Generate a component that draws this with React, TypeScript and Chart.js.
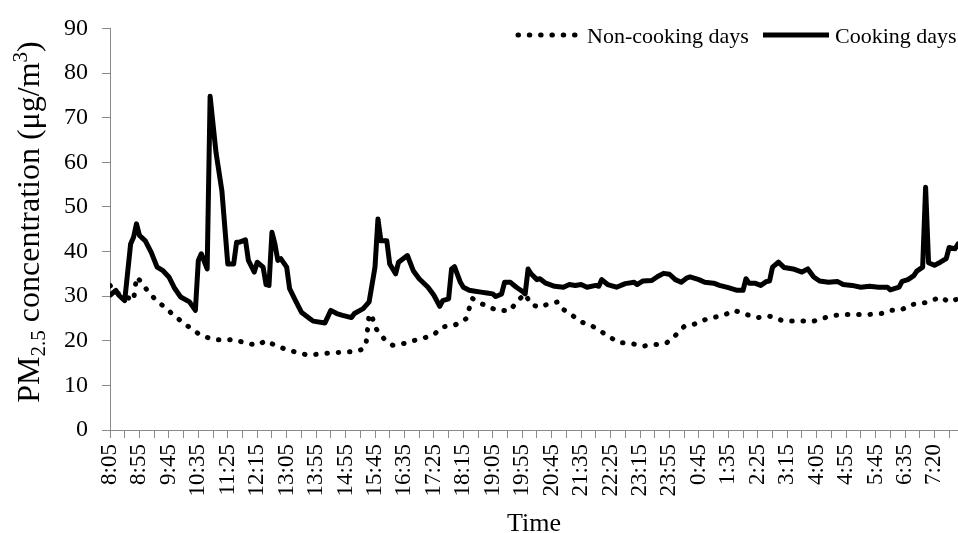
import React, { useEffect, useRef } from "react";
import { Chart, registerables } from "chart.js";

Chart.register(...registerables);

// Tick labels shown every 10 samples along the time axis
const timeLabels = [
  "8:05", "8:55", "9:45", "10:35", "11:25", "12:15", "13:05", "13:55", "14:55", "15:45",
  "16:35", "17:25", "18:15", "19:05", "19:55", "20:45", "21:35", "22:25", "23:15", "23:55",
  "0:45", "1:35", "2:25", "3:15", "4:05", "4:55", "5:45", "6:35", "7:20",
];

const SAMPLE_COUNT = 288; // last sample index on the time axis

// [sample index, PM2.5 µg/m³]
const cookingDays: [number, number][] = [
  [0, 30.2], [2, 31.3], [3, 30.2], [5, 29.0], [7, 41.7], [8, 43.2], [9, 46.2], [10, 43.6], [12, 42.4], [14, 39.8],
  [16, 36.5], [18, 35.7], [20, 34.3], [22, 31.7], [24, 29.8], [27, 28.7], [29, 26.8], [30, 38.0], [31, 39.5], [33, 36.1],
  [34, 74.8], [36, 62.2], [38, 53.6], [40, 37.2], [42, 37.2], [43, 42.1], [44, 42.1], [46, 42.6], [47, 38.0], [49, 35.4],
  [50, 37.6], [52, 36.5], [53, 32.6], [54, 32.4], [55, 44.3], [56, 41.7], [57, 38.0], [58, 38.4], [60, 36.5], [61, 31.7],
  [63, 29.0], [65, 26.4], [68, 24.9], [69, 24.4], [73, 24.0], [75, 26.8], [77, 26.1], [79, 25.7], [82, 25.2], [83, 26.1],
  [86, 27.2], [88, 28.7], [90, 36.5], [91, 47.3], [92, 42.4], [94, 42.4], [95, 37.2], [97, 35.0], [98, 37.6], [101, 39.1],
  [103, 35.7], [105, 33.9], [108, 32.0], [110, 30.2], [112, 27.7], [113, 29.0], [115, 29.4], [116, 36.1], [117, 36.6], [119, 33.1],
  [120, 32.0], [122, 31.3], [124, 31.1], [126, 30.9], [128, 30.7], [130, 30.5], [131, 29.9], [133, 30.5], [134, 33.1], [136, 33.1],
  [138, 32.0], [140, 31.1], [141, 30.5], [142, 36.1], [143, 35.0], [145, 33.7], [146, 33.9], [148, 32.9], [151, 32.2], [154, 32.0],
  [156, 32.6], [158, 32.4], [160, 32.6], [162, 32.0], [165, 32.4], [166, 32.2], [167, 33.7], [169, 32.6], [172, 32.0], [175, 32.8],
  [178, 33.1], [179, 32.6], [181, 33.4], [184, 33.5], [186, 34.4], [188, 35.1], [190, 34.9], [192, 33.7], [194, 33.1], [196, 34.1],
  [197, 34.3], [200, 33.7], [202, 33.1], [205, 32.9], [207, 32.4], [210, 31.9], [213, 31.3], [215, 31.3], [216, 33.9], [217, 32.9],
  [219, 32.9], [221, 32.4], [223, 33.3], [224, 33.4], [225, 36.5], [227, 37.6], [229, 36.4], [232, 36.1], [235, 35.4], [237, 36.1],
  [239, 34.3], [241, 33.4], [244, 33.1], [247, 33.3], [249, 32.6], [252, 32.4], [255, 32.0], [258, 32.2], [261, 32.0], [264, 32.0],
  [265, 31.4], [268, 32.0], [269, 33.3], [271, 33.7], [273, 34.6], [274, 35.6], [276, 36.5], [277, 54.4], [278, 37.5], [280, 36.9],
  [282, 37.6], [284, 38.4], [285, 40.9], [287, 40.6], [288, 41.7],
];

const nonCookingDays: [number, number][] = [
  [0, 32.4], [2, 30.8], [5, 30.0], [8, 29.0], [9, 34.3], [11, 32.9], [13, 30.9], [16, 28.9], [19, 27.3], [22, 25.5],
  [25, 24.0], [28, 22.5], [31, 21.2], [35, 20.3], [39, 20.1], [42, 20.3], [46, 19.5], [50, 19.0], [53, 20.0], [56, 19.0],
  [60, 18.0], [64, 17.3], [67, 16.8], [71, 17.0], [75, 17.3], [79, 17.4], [83, 17.6], [86, 18.1], [87, 19.5], [88, 26.0],
  [89, 25.5], [90, 23.0], [93, 20.5], [96, 19.0], [100, 19.4], [103, 20.0], [107, 20.7], [110, 21.4], [113, 23.1], [117, 23.5],
  [120, 24.4], [121, 25.0], [123, 29.5], [125, 28.7], [129, 27.4], [132, 26.8], [136, 26.8], [138, 28.7], [141, 30.5], [143, 28.1],
  [146, 27.5], [149, 28.3], [152, 28.7], [154, 27.0], [157, 25.7], [160, 24.2], [163, 23.6], [167, 22.0], [170, 20.7], [173, 19.6],
  [177, 19.4], [181, 18.8], [185, 19.1], [189, 19.5], [192, 21.2], [195, 23.2], [198, 23.6], [202, 24.7], [205, 25.2], [209, 25.9],
  [212, 26.8], [216, 25.9], [220, 25.2], [224, 25.5], [228, 24.6], [231, 24.4], [235, 24.4], [239, 24.4], [243, 25.2], [246, 25.7],
  [250, 25.9], [254, 25.9], [258, 25.9], [262, 26.1], [265, 26.8], [269, 27.0], [272, 28.1], [275, 28.3], [278, 28.7], [282, 29.8],
  [285, 28.7], [288, 29.4],
];

const seriesNames = ["Non-cooking days", "Cooking days"];
const xTitle = "Time";

const FONT = "'Liberation Serif', 'Times New Roman', serif";
const AXIS_GRAY = "#8a8a8a";
const DOT_DASH = [0.5, 10.8];

export default function App() {
  const ref = useRef<HTMLCanvasElement>(null);

  useEffect(() => {
    if (!ref.current) return;

    const overlay = {
      id: "overlay",
      afterDraw(chart: any) {
        const ctx = chart.ctx as CanvasRenderingContext2D;
        const area = chart.chartArea;
        ctx.save();
        ctx.fillStyle = "#000";
        ctx.strokeStyle = "#000";

        // Legend (inside plot, top right)
        ctx.lineCap = "round";
        ctx.lineWidth = 5;
        ctx.setLineDash(DOT_DASH);
        ctx.beginPath();
        ctx.moveTo(518, 35);
        ctx.lineTo(580, 35);
        ctx.stroke();
        ctx.setLineDash([]);
        ctx.lineCap = "butt";
        ctx.lineWidth = 5;
        ctx.beginPath();
        ctx.moveTo(763, 35);
        ctx.lineTo(829, 35);
        ctx.stroke();
        ctx.font = `22px ${FONT}`;
        ctx.textBaseline = "middle";
        ctx.textAlign = "left";
        ctx.fillText(seriesNames[0], 587, 37);
        ctx.fillText(seriesNames[1], 835, 37);

        // X title
        ctx.font = `26px ${FONT}`;
        ctx.textAlign = "center";
        ctx.textBaseline = "alphabetic";
        ctx.fillText(xTitle, (area.left + area.right) / 2, 531);

        // Y title with subscript / superscript
        const big = 32;
        const small = 21;
        const parts = [
          { t: "PM", s: big, dy: 0 },
          { t: "2.5", s: small, dy: 6 },
          { t: " concentration (\u03bcg/m", s: big, dy: 0 },
          { t: "3", s: small, dy: -12 },
          { t: ")", s: big, dy: 0 },
        ];
        let total = 0;
        const widths = parts.map((p) => {
          ctx.font = `${p.s}px ${FONT}`;
          const w = ctx.measureText(p.t).width;
          total += w;
          return w;
        });
        ctx.translate(39, 222);
        ctx.rotate(-Math.PI / 2);
        ctx.textAlign = "left";
        let x = -total / 2;
        parts.forEach((p, k) => {
          ctx.font = `${p.s}px ${FONT}`;
          ctx.fillText(p.t, x, p.dy);
          x += widths[k];
        });
        ctx.restore();
      },
    };

    const chart = new Chart(ref.current, {
      type: "line",
      data: {
        datasets: [
          {
            label: seriesNames[0],
            data: nonCookingDays.map(([x, y]) => ({ x, y })),
            borderColor: "#000",
            borderWidth: 5,
            borderDash: DOT_DASH,
            borderCapStyle: "round",
            borderJoinStyle: "round",
            pointRadius: 0,
            tension: 0,
            fill: false,
          },
          {
            label: seriesNames[1],
            data: cookingDays.map(([x, y]) => ({ x, y })),
            borderColor: "#000",
            borderWidth: 5,
            borderCapStyle: "round",
            borderJoinStyle: "round",
            pointRadius: 0,
            tension: 0,
            fill: false,
          },
        ],
      },
      options: {
        animation: false,
        responsive: false,
        events: [],
        layout: { padding: { top: 27, left: 0, right: 0, bottom: 0 } },
        plugins: {
          legend: { display: false },
          tooltip: { enabled: false },
          title: { display: false },
        },
        scales: {
          x: {
            type: "linear",
            min: 0,
            max: SAMPLE_COUNT,
            afterBuildTicks: (scale: any) => {
              const t = [];
              for (let v = 0; v <= SAMPLE_COUNT; v += 5) t.push({ value: v });
              scale.ticks = t;
            },
            afterFit: (scale: any) => {
              scale.height = 103;
              scale.paddingLeft = 0;
              scale.paddingRight = 0;
            },
            grid: {
              display: true,
              drawOnChartArea: false,
              drawTicks: true,
              tickLength: 8,
              color: AXIS_GRAY,
            },
            border: { display: true, color: AXIS_GRAY, width: 1 },
            ticks: {
              autoSkip: false,
              minRotation: 90,
              maxRotation: 90,
              padding: 6,
              color: "#000",
              font: { family: FONT, size: 23 },
              callback: (value: any) => {
                const v = Number(value);
                return v % 10 === 0 && timeLabels[v / 10] !== undefined ? timeLabels[v / 10] : "";
              },
            },
          },
          y: {
            type: "linear",
            min: 0,
            max: 90,
            afterFit: (scale: any) => {
              scale.width = 110;
            },
            grid: {
              display: true,
              drawOnChartArea: false,
              drawTicks: true,
              tickLength: 8,
              color: AXIS_GRAY,
            },
            border: { display: true, color: AXIS_GRAY, width: 1 },
            ticks: {
              stepSize: 10,
              padding: 14,
              color: "#000",
              font: { family: FONT, size: 24 },
            },
          },
        },
      },
      plugins: [overlay],
    } as any);

    return () => chart.destroy();
  }, []);

  return (
    <div style={{ position: "fixed", left: 0, top: 0, width: 958, height: 533, background: "#fff" }}>
      <canvas ref={ref} width={958} height={533} style={{ width: 958, height: 533, display: "block" }} />
    </div>
  );
}
